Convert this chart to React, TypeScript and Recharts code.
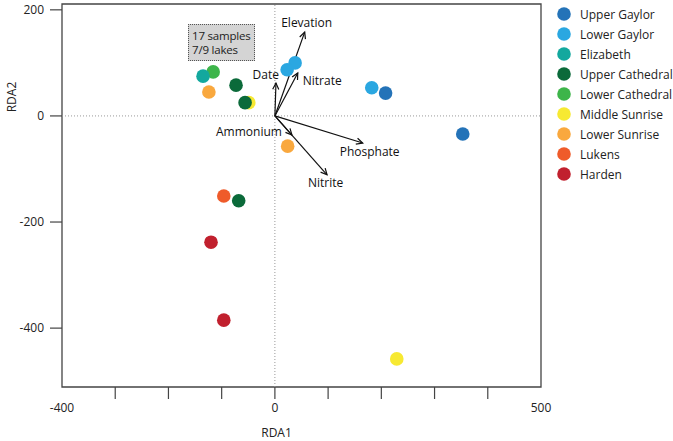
import { ScatterChart, Scatter, XAxis, YAxis, ReferenceLine, ReferenceArea } from "recharts";

// RDA site scores, per lake
const upperGaylor = [{ x: 208, y: 43 }, { x: 353, y: -34 }];
const lowerGaylor = [{ x: 182, y: 53 }, { x: 38, y: 100 }, { x: 23, y: 87 }];
const elizabeth = [{ x: -135, y: 75 }];
const upperCathedral = [{ x: -73, y: 58 }, { x: -56, y: 25 }, { x: -68, y: -160 }];
const lowerCathedral = [{ x: -116, y: 83 }];
const middleSunrise = [{ x: -49, y: 25 }, { x: 229, y: -458 }];
const lowerSunrise = [{ x: -124, y: 45 }, { x: 24, y: -57 }];
const lukens = [{ x: -96, y: -151 }];
const harden = [{ x: -120, y: -238 }, { x: -96, y: -385 }];

const lakes = [
  { name: "Upper Gaylor", color: "#2473b8", data: upperGaylor },
  { name: "Lower Gaylor", color: "#2aa7e1", data: lowerGaylor },
  { name: "Elizabeth", color: "#13a89e", data: elizabeth },
  { name: "Upper Cathedral", color: "#0b6a3a", data: upperCathedral },
  { name: "Lower Cathedral", color: "#3db54a", data: lowerCathedral },
  { name: "Middle Sunrise", color: "#f7e932", data: middleSunrise },
  { name: "Lower Sunrise", color: "#f9a83e", data: lowerSunrise },
  { name: "Lukens", color: "#ef5b2a", data: lukens },
  { name: "Harden", color: "#c1202e", data: harden },
];
// draw order (back to front)
const drawOrder = ["Middle Sunrise", "Lower Cathedral", "Elizabeth", "Upper Cathedral", "Lower Gaylor", "Upper Gaylor", "Lower Sunrise", "Lukens", "Harden"];

// environmental vectors
const vectorNames = ["Elevation", "Nitrate", "Date", "Ammonium", "Phosphate", "Nitrite"];
const vectorX = [56, 43, 2, 32, 165, 98];
const vectorY = [158, 81, 62, -36, -51, -111];
// label placement relative to arrow tip
const vectorLabelStyle = [
  { anchor: "middle", dx: 2, dy: -5 },
  { anchor: "start", dx: 5, dy: 12 },
  { anchor: "end", dx: 3, dy: -4 },
  { anchor: "end", dx: -10, dy: 1 },
  { anchor: "start", dx: -23, dy: 13 },
  { anchor: "start", dx: -19, dy: 12 },
];

const xTicks = [-400, -300, -200, -100, 0, 100, 200, 300, 400, 500];
const xLabels = [-400, 0, 500];
const yTicks = [200, 0, -200, -400];
const X_MIN = -400, X_MAX = 500, Y_MIN = -511, Y_MAX = 211;

const FONT = "'Open Sans', sans-serif";
const AXIS = "#444";

function arrowShape(i: number) {
  return (p: any) => {
    const { x1, y1, x2, y2 } = p;
    const ang = Math.atan2(y2 - y1, x2 - x1);
    const h = 7;
    const a = ang + Math.PI - 0.45;
    const b = ang + Math.PI + 0.45;
    const s = vectorLabelStyle[i];
    return (
      <g>
        <line x1={x1} y1={y1} x2={x2} y2={y2} stroke="#111" strokeWidth={1.2} />
        <polyline
          points={`${x2 + h * Math.cos(a)},${y2 + h * Math.sin(a)} ${x2},${y2} ${x2 + h * Math.cos(b)},${y2 + h * Math.sin(b)}`}
          fill="none"
          stroke="#111"
          strokeWidth={1.2}
        />
        <text x={x2 + s.dx} y={y2 + s.dy} textAnchor={s.anchor as any} fontSize={12} fontFamily={FONT} fill="#111">
          {vectorNames[i]}
        </text>
      </g>
    );
  };
}

const XTick = (p: any) => {
  const { x, y, payload } = p;
  const v = payload.value;
  return (
    <g>
      {v !== X_MIN && v !== X_MAX && <line x1={x} y1={y - 15} x2={x} y2={y - 3} stroke={AXIS} strokeWidth={1.2} />}
      {xLabels.includes(v) && (
        <text x={x} y={y + 10} textAnchor="middle" fontSize={12} fontFamily={FONT} fill="#222">
          {v}
        </text>
      )}
    </g>
  );
};

export default function App() {
  return (
    <div style={{ position: "absolute", left: 0, top: 0, width: 673, height: 441, fontFamily: FONT, background: "#fff" }}>
      <ScatterChart width={673} height={441} margin={{ top: 4, right: 132, bottom: 0, left: 0 }}>
        <XAxis
          type="number"
          dataKey="x"
          domain={[X_MIN, X_MAX]}
          ticks={xTicks}
          allowDataOverflow
          axisLine={false}
          tickLine={false}
          tickSize={12}
          tickMargin={3}
          height={54}
          tick={<XTick />}
          label={{ value: "RDA1", position: "insideBottom", offset: 4, dx: -25, fontSize: 12, fill: "#222", fontFamily: FONT }}
        />
        <YAxis
          type="number"
          dataKey="y"
          domain={[Y_MIN, Y_MAX]}
          ticks={yTicks}
          allowDataOverflow
          axisLine={false}
          tickSize={12}
          tickMargin={6}
          width={62}
          tickLine={{ stroke: AXIS, strokeWidth: 1.2 }}
          tick={{ fontSize: 12, fill: "#222", fontFamily: FONT }}
          label={{
            content: (props: any) => {
              const vb = props.viewBox || { x: 0, y: 4 };
              const cx = vb.x + 16;
              const cy = vb.y + 93;
              return (
                <text x={cx} y={cy} transform={`rotate(-90, ${cx}, ${cy})`} textAnchor="middle" fontSize={12} fontFamily={FONT} fill="#222">
                  RDA2
                </text>
              );
            },
          }}
        />
        <ReferenceLine x={0} stroke="#999" strokeDasharray="1 2" />
        <ReferenceLine y={0} stroke="#999" strokeDasharray="1 2" />
        <ReferenceArea x1={X_MIN} x2={X_MAX} y1={Y_MIN} y2={Y_MAX} fill="none" fillOpacity={0} stroke={AXIS} strokeWidth={1.3} />
        {drawOrder.map((n) => {
          const lake = lakes.find((l) => l.name === n)!;
          return (
            <Scatter
              key={n}
              name={n}
              data={lake.data}
              isAnimationActive={false}
              shape={(p: any) => <circle cx={p.cx} cy={p.cy} r={6.8} fill={lake.color} />}
            />
          );
        })}
        {vectorNames.map((n, i) => (
          <ReferenceLine
            key={n}
            segment={[{ x: 0, y: 0 }, { x: vectorX[i], y: vectorY[i] }]}
            shape={arrowShape(i)}
          />
        ))}
      </ScatterChart>
      <div
        style={{
          position: "absolute",
          left: 188,
          top: 24,
          width: 67,
          height: 37,
          background: "#d4d4d4",
          border: "1px dotted #555",
          fontSize: 11.5,
          lineHeight: "14px",
          padding: "4px 0 0 3px",
          boxSizing: "border-box",
          color: "#222",
          whiteSpace: "nowrap",
          letterSpacing: -0.2,
        }}
      >
        17 samples
        <br />
        7/9 lakes
      </div>
      <svg style={{ position: "absolute", left: 550, top: 0 }} width={123} height={200}>
        {lakes.map((l, i) => (
          <g key={l.name}>
            <circle cx={14} cy={14 + i * 20} r={6.8} fill={l.color} />
            <text x={30} y={18.5 + i * 20} fontSize={12} fontFamily={FONT} fill="#222">
              {l.name}
            </text>
          </g>
        ))}
      </svg>
    </div>
  );
}
